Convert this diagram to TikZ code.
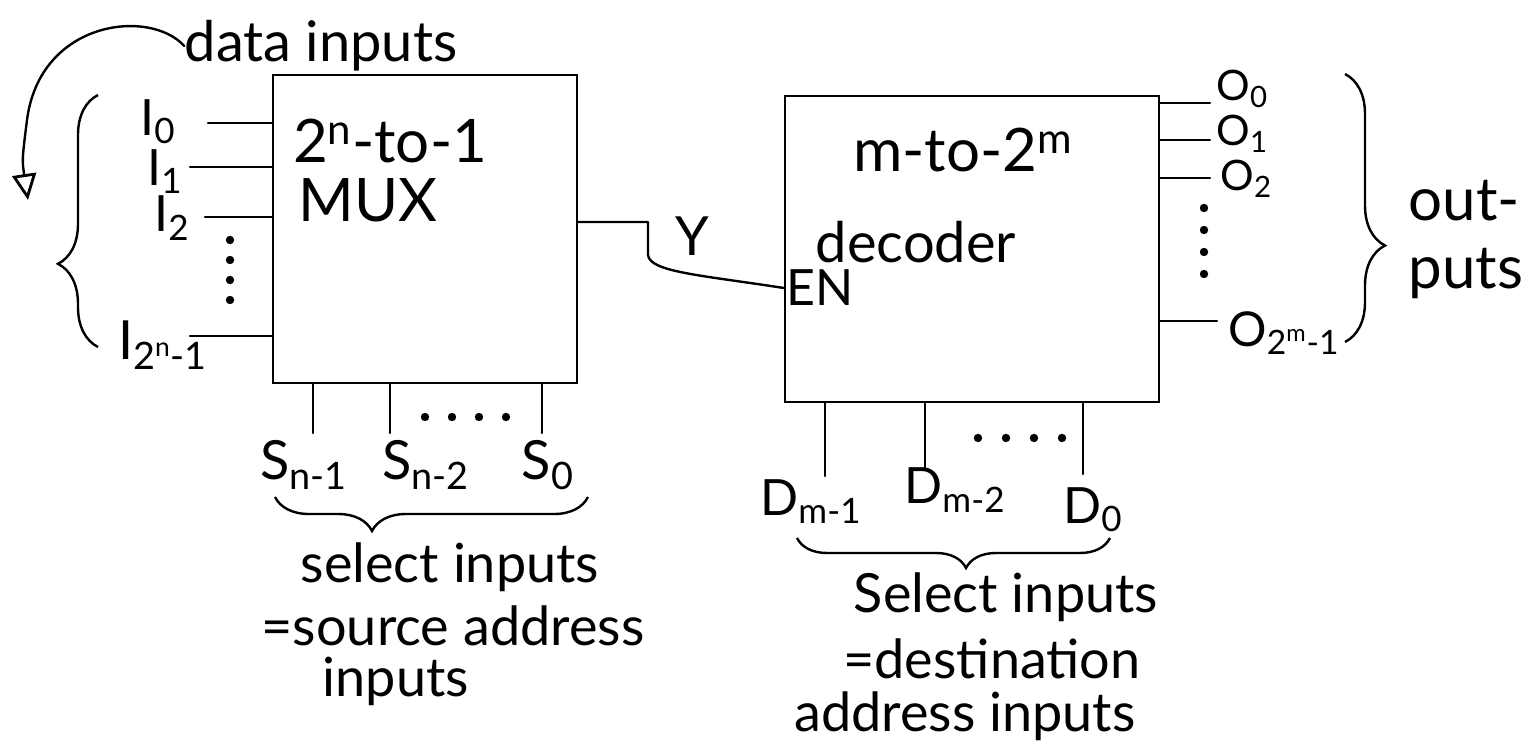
\documentclass[tikz,border=0pt]{standalone}
\usepackage{fontspec}
\setmainfont{Lato}
\usetikzlibrary{decorations.pathreplacing,arrows.meta,calc}
\tikzset{
  wire/.style={line width=1.2pt, line cap=round, line join=round},
  blockbox/.style={draw, line width=1.2pt, rectangle, inner sep=0pt},
  lbl/.style={font=\fontsize{25}{28}\selectfont, inner sep=1pt},
  olbl/.style={font=\fontsize{21}{23}\selectfont, inner sep=0pt, anchor=west},
  big/.style={font=\fontsize{30}{33}\selectfont, inner sep=1pt},
  note/.style={font=\fontsize{27}{30}\selectfont, inner sep=0pt},
  bracestyle/.style={line width=1.2pt, decorate},
  dot/.style={circle, fill, inner sep=0pt, minimum size=4.2pt},
}
\begin{document}
\begin{tikzpicture}[x=0.5pt,y=-0.5pt]
\path[use as bounding box] (0,0) rectangle (1532,743);
% blocks
\node[blockbox, minimum width=152pt, minimum height=154pt] (mux) at (425,229) {};
\node[blockbox, minimum width=187pt, minimum height=153pt] (dec) at (972,249) {};
% block texts
\node[big] (muxt1) at (390,141) {2\textsuperscript{n}-to-1};
\node[big] (muxt2) at (368,200) {MUX};
\node[big] (dect1) at (963,150) {m-to-2\textsuperscript{m}};
\node[big, font=\fontsize{28}{30}\selectfont] (dect2) at (916,242) {decoder};
\node[lbl, anchor=west] (en) at (dec.west |- 0,288) {EN};
% data inputs
\node[note, font=\fontsize{28}{30}\selectfont] (data) at (321,46) {data inputs};
\coordinate (arrowend) at (28,200);
\draw[wire, -{Triangle[open,length=13pt,width=12pt,line width=1.4pt]}] (data.west) .. controls (150,8) and (40,20) .. (27,120) .. controls (22,160) .. (arrowend);
% inputs
\coordinate (i0) at (208,123);
\coordinate (i1) at (190,167);
\coordinate (i2) at (205,217);
\coordinate (in) at (190,336);
\draw[wire] (i0) -- (i0 -| mux.west);
\draw[wire] (i1) -- (i1 -| mux.west);
\draw[wire] (i2) -- (i2 -| mux.west);
\draw[wire] (in) -- (in -| mux.west);
\node[lbl] (li0) at (158,122) {I\textsubscript{0}};
\node[lbl] (li1) at (165,172) {I\textsubscript{1}};
\node[lbl] (li2) at (172,218) {I\textsubscript{2}};
\node[lbl, font=\fontsize{27}{30}\selectfont] (lin) at (163,345) {I\textsubscript{2\textsuperscript{n}-1}};
\foreach \yy [count=\k] in {240,260,280,300} \node[dot] (vd\k) at (230,\yy) {};
\draw[bracestyle, decoration={brace, amplitude=20pt, aspect=0.33}] (98,347) -- (98,95);
% select inputs of MUX
\coordinate (s1) at (313,433);
\coordinate (s2) at (390,433);
\coordinate (s0) at (542,433);
\draw[wire] (s1 |- mux.south) -- (s1);
\draw[wire] (s2 |- mux.south) -- (s2);
\draw[wire] (s0 |- mux.south) -- (s0);
\foreach \xx [count=\k] in {425,452,479,506} \node[dot] (sd\k) at (\xx,417) {};
\node[lbl, font=\fontsize{27}{30}\selectfont] (ls1) at (304,465) {S\textsubscript{n-1}};
\node[lbl, font=\fontsize{27}{30}\selectfont] (ls2) at (426,465) {S\textsubscript{n-2}};
\node[lbl, font=\fontsize{27}{30}\selectfont] (ls0) at (548,465) {S\textsubscript{0}};
\draw[bracestyle, decoration={brace, amplitude=17pt, aspect=0.69}] (588,497) -- (275,497);
\node[note] (sel1) at (450,567) {select inputs};
\node[note] (sel2) at (453,626) {=source address};
\node[note] (sel3) at (396,681) {inputs};
% Y connection
\coordinate (ybend) at (648,222);
\draw[wire] (mux.east |- ybend) -- (ybend) -- (648,255) .. controls (650,272) and (700,275) .. (en.west);
\node[lbl, font=\fontsize{27}{30}\selectfont] (ylab) at (692,236) {Y};
% decoder outputs
\coordinate (o0) at (1210,103);
\coordinate (o1) at (1210,140);
\coordinate (o2) at (1210,178);
\coordinate (on) at (1217,321);
\draw[wire] (o0 -| dec.east) -- (o0);
\draw[wire] (o1 -| dec.east) -- (o1);
\draw[wire] (o2 -| dec.east) -- (o2);
\draw[wire] (on -| dec.east) -- (on);
\node[olbl] (lo0) at (1216,89) {O\textsubscript{0}};
\node[olbl] (lo1) at (1216,134) {O\textsubscript{1}};
\node[olbl] (lo2) at (1220,179) {O\textsubscript{2}};
\node[olbl, font=\fontsize{24}{26}\selectfont] (lon) at (1228,333) {O\textsubscript{2\textsuperscript{m}-1}};
\foreach \yy [count=\k] in {208,230,252,274} \node[dot] (od\k) at (1204,\yy) {};
\draw[bracestyle, decoration={brace, amplitude=20pt, aspect=0.64}] (1345,74) -- (1345,342);
\node[note, font=\fontsize{30}{34}\selectfont, align=left] (outs) at (1466,240) {out-\\puts};
% decoder select inputs
\coordinate (d1) at (825,476);
\coordinate (d2) at (925,470);
\coordinate (d0) at (1083,474);
\draw[wire] (d1 |- dec.south) -- (d1);
\draw[wire] (d2 |- dec.south) -- (d2);
\draw[wire] (d0 |- dec.south) -- (d0);
\foreach \xx [count=\k] in {978,1006,1034,1062} \node[dot] (dd\k) at (\xx,438) {};
\node[lbl] (ld1) at (811,502) {D\textsubscript{m-1}};
\node[lbl] (ld2) at (955,490) {D\textsubscript{m-2}};
\node[lbl] (ld0) at (1093,510) {D\textsubscript{0}};
\draw[bracestyle, decoration={brace, amplitude=15pt, aspect=0.46}] (1110,538) -- (797,538);
\node[note] (dsel1) at (1006,597) {Select inputs};
\node[note] (dsel2) at (992,659) {=destination};
\node[note] (dsel3) at (965,716) {address inputs};
\end{tikzpicture}
\end{document}
